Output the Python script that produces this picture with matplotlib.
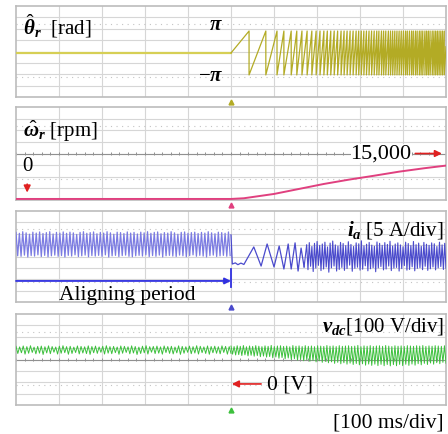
import numpy as np
import matplotlib
matplotlib.use('Agg')
import matplotlib.pyplot as plt

plt.rcParams['font.family'] = ['Liberation Serif', 'DejaVu Serif']
plt.rcParams['mathtext.fontset'] = 'custom'
plt.rcParams['mathtext.rm'] = 'Liberation Serif'
plt.rcParams['mathtext.it'] = 'Liberation Serif:italic'
plt.rcParams['mathtext.bf'] = 'Liberation Serif:bold:italic'
try:
    plt.rcParams['mathtext.bfit'] = 'Liberation Serif:bold:italic'
except KeyError:
    pass

# ---------------- data (time in ms, 100 ms/div, trigger at 0) ----------------
theta_pre_t = [-500, 0]
theta_pre_rad = [0.0, 0.0]
theta_wrap_ms = [42, 81, 107, 123, 140, 153, 165, 177, 188, 198, 207, 216, 224, 232,
                 240, 248, 256, 263, 270, 277, 284, 291, 297, 303, 309, 315, 321, 327,
                 333, 339, 344, 350, 355, 360, 366, 371, 376, 381, 386, 391, 396, 401,
                 406, 410, 415, 420, 424, 429, 433, 438, 442, 446, 451, 455, 459, 463,
                 468, 472, 476, 480, 484, 488, 492, 496]
theta_end_rad = 0.9

speed_t = [-500, 0, 30, 100, 158, 216, 274, 333, 391, 449, 500]
speed_rpm = [0, 0, 230, 1650, 3300, 4950, 6370, 7670, 9010, 10130, 11010]

ia_pre_hi = [10.6, 10.2, 10.9, 10.4, 9.8, 10.7, 10.3, 10.8, 10.1, 10.5, 10.9, 9.9, 10.6,
             10.3, 10.8, 10.2, 10.7, 10.4, 9.7, 10.6, 10.9, 10.2, 10.5, 10.8, 10.0, 10.6,
             10.3, 10.9, 10.4, 9.8, 10.7, 10.5, 10.1, 10.8, 10.3, 10.6, 9.9, 10.7, 10.4,
             10.9, 10.2, 10.6, 10.8, 10.0, 10.5, 10.3, 10.9, 10.4, 9.8, 10.6, 10.8, 10.2,
             10.5, 10.7, 10.1, 10.6, 10.3, 10.9, 10.4, 10.0, 10.7, 10.5, 10.2, 10.8]
ia_pre_lo = [0.3, 0.1, 0.6, -0.2, 0.4, 0.2, 0.7, 0.0, 0.5, -0.1, 0.3, 0.6, 0.1, 0.4, -0.2,
             0.5, 0.2, 0.7, 0.0, 0.3, 0.6, -0.1, 0.4, 0.2, 0.5, 0.1, 0.7, -0.2, 0.3, 0.5,
             0.0, 0.4, 0.6, 0.1, -0.1, 0.3, 0.5, 0.2, 0.7, 0.0, 0.4, 0.1, 0.6, -0.2, 0.3,
             0.5, 0.2, 0.0, 0.6, 0.3, -0.1, 0.4, 0.7, 0.1, 0.5, 0.2, -0.2, 0.4, 0.6, 0.0,
             0.3, 0.5, 0.1, 0.4]
ia_start_t = [0, 3, 10, 16, 23, 30, 53, 70, 84, 100, 112, 123, 133, 140, 149, 156, 163, 170]
ia_start_A = [9.5, -3.3, -2.8, -3.6, -2.9, -3.5, 4.2, -4.2, 5.5, -4.6, 4.6, -5.5, 5.5,
              -5.5, 6.0, -6.4, 3.7, -4.6]
ia_post_hi = [5.2, 6.1, 4.4, 5.8, 6.6, 4.9, 5.5, 6.3, 4.2, 5.9, 6.8, 5.1, 4.6, 6.2, 5.7,
              4.8, 6.5, 5.3, 4.4, 6.0, 5.6, 6.9, 4.7, 5.4, 6.2, 5.0, 4.5, 6.4, 5.8, 4.9,
              6.1, 5.3, 6.7, 4.6, 5.5, 6.0, 5.1, 4.3, 6.3, 5.7, 4.8, 6.6, 5.2, 5.9, 4.5,
              6.2, 5.4, 4.9, 6.0, 5.6, 4.4, 6.3, 5.1, 5.8]
ia_post_lo = [-5.8, -4.3, -6.6, -5.1, -3.9, -6.2, -5.5, -4.6, -6.9, -5.0, -4.2, -6.4, -5.7,
              -4.8, -6.1, -5.3, -3.8, -6.5, -5.2, -4.7, -6.0, -5.6, -4.1, -6.3, -5.4, -4.9,
              -6.7, -5.0, -4.4, -5.9, -5.5, -4.2, -6.2, -5.1, -4.8, -6.4, -5.3, -4.0, -6.0,
              -5.7, -4.5, -6.3, -5.2, -4.9, -5.8, -4.3, -6.1, -5.4, -4.6, -5.9, -5.0, -4.4,
              -5.7, -5.2]

vdc_pre_hi = [331, 326, 334, 328, 336, 324, 330, 333, 327, 335,
              329, 325, 332, 336, 328, 331, 324, 334, 330, 327,
              335, 329, 333, 326, 331, 336, 328, 330, 325, 334,
              331, 327, 335, 329, 324, 332, 336, 328, 330, 333,
              326, 334, 329, 331, 325, 335, 330, 327, 333, 328,
              336, 331, 326, 334, 329, 332, 327, 335, 330, 328]
vdc_pre_lo = [268, 274, 262, 270, 277, 265, 271, 259, 273, 266,
              279, 263, 270, 275, 261, 268, 276, 264, 272, 267,
              260, 274, 269, 278, 263, 271, 266, 275, 261, 270,
              277, 265, 272, 259, 268, 274, 263, 279, 267, 271,
              262, 276, 269, 264, 273, 260, 270, 278, 266, 272,
              263, 275, 268, 261, 274, 270, 265, 277, 262, 269]
vdc_post_hi = [333, 329, 336, 331, 338, 327, 334, 330, 337, 332,
               328, 335, 331, 339, 329, 334, 336, 330, 333, 327,
               338, 332, 335, 329, 337, 331, 334, 328, 336, 333,
               330, 338, 332, 335, 329, 337, 331, 334, 336, 330,
               333, 339, 328, 335, 332, 337, 330, 334, 336, 331,
               338, 333, 329, 336, 332, 335, 330, 337, 334, 331,
               336, 333, 338, 330, 335, 332, 337, 334, 331, 336]
vdc_post_lo = [262, 255, 258, 250, 256, 247, 252, 244, 249, 240,
               245, 236, 241, 230, 237, 226, 232, 221, 228, 216,
               222, 210, 217, 204, 212, 199, 207, 194, 203, 190,
               198, 186, 194, 181, 190, 177, 186, 174, 183, 171,
               180, 168, 177, 165, 175, 163, 174, 161, 172, 160,
               171, 159, 170, 160, 172, 161, 173, 163, 175, 165,
               178, 168, 181, 171, 184, 174, 187, 178, 190, 182]

# ---------------- scope scaling (screen divisions) ----------------
THETA_CENTER, THETA_DIV_PER_PI = 3.87, 1.93
SPEED_ZERO, SPEED_DIV_PER_RPM = 0.09, 3.91 / 15000
IA_ZERO, IA_A_PER_DIV = 4.0, 5.0
VDC_ZERO, VDC_V_PER_DIV = 1.85, 100.0

def zigzag(hi, lo):
    out = []
    for a, b in zip(hi, lo):
        out += [a, b]
    return out

# ---------------- figure ----------------
W, H = 448, 435
fig = plt.figure(figsize=(W / 100, H / 100), dpi=100)

def rect(top, bottom):
    return [16 / W, 1 - bottom / H, 430 / W, (bottom - top) / H]

panels = [(7, 98), (108, 201), (212, 303), (315, 406)]
axes = [fig.add_axes(rect(*p)) for p in panels]

GRID = '#d6d6d6'
for i, ax in enumerate(axes):
    ax.set_xlim(-500, 500)
    ax.set_ylim(0, 8)
    ax.set_xticks([])
    ax.set_yticks([])
    for s in ax.spines.values():
        s.set_color('#bcbcbc')
        s.set_linewidth(1.2)
    for x in range(-400, 500, 100):
        ax.axvline(x, color=GRID, lw=0.8, zorder=0)
    for y in range(1, 8):
        ax.axhline(y, color=GRID, lw=0.8, zorder=0)
    for y in (1.8, 6.4):
        ax.axhline(y, color='#c4c4c4', lw=0.8, ls=(0, (1, 4)), zorder=0)
    if i in (1, 3):
        ax.axhline(4, color='#909090', lw=0.8, zorder=0.5)
        ax.vlines(np.arange(-500, 501, 20), 3.88, 4.12, color='#909090', lw=0.7, zorder=0.5)

trace_cols = ['#b3ab25', '#e0407f', '#4a4acc', '#3cc03c']
for ax, c in zip(axes, trace_cols):
    ax.plot([0], [-0.45], marker='^', color=c, ms=3.5, clip_on=False, zorder=5)

# ---- panel 1: estimated angle ----
ax = axes[0]
tt = [0]
th = [0.0]
for w in theta_wrap_ms:
    tt += [w, w]
    th += [np.pi, -np.pi]
tt.append(500)
th.append(theta_end_rad)
to_div = lambda v: THETA_CENTER + np.asarray(v) * THETA_DIV_PER_PI / np.pi
ax.plot(theta_pre_t, to_div(theta_pre_rad), color='#d6cf55', lw=1.6, zorder=3)
ax.plot(tt, to_div(th), color=trace_cols[0], lw=0.9, zorder=3)
ax.text(-484, 6.3, r'$\hat{\mathbf{\theta}}_{\mathbf{r}}$  [rad]', fontsize=15, ha='left', va='center')
ax.text(-18, 6.4, r'$\mathbf{\pi}$', fontsize=15, ha='right', va='center')
ax.text(-18, 1.85, r'$-\mathbf{\pi}$', fontsize=15, ha='right', va='center')

# ---- panel 2: estimated speed ----
ax = axes[1]
ax.plot(speed_t, SPEED_ZERO + np.asarray(speed_rpm) * SPEED_DIV_PER_RPM,
        color=trace_cols[1], lw=1.4, zorder=3)
ax.text(-484, 6.0, r'$\hat{\mathbf{\omega}}_{\mathbf{r}}$ [rpm]', fontsize=15, ha='left', va='center')
ax.text(-474, 3.0, '0', fontsize=15, ha='center', va='center')
ax.annotate('', xy=(-474, 0.4), xytext=(-474, 1.6),
            arrowprops=dict(arrowstyle='-|>', color='#e02020', lw=1.2, mutation_scale=10))
ax.text(349, 4.0, '15,000', fontsize=16, ha='center', va='center', zorder=4,
        bbox=dict(fc='white', ec='none', pad=0))
ax.annotate('', xy=(497, 4.0), xytext=(422, 4.0),
            arrowprops=dict(arrowstyle='-|>', color='#e02020', lw=1.2, mutation_scale=10))

# ---- panel 3: phase current ----
ax = axes[2]
n = len(ia_pre_hi)
t_pre = np.linspace(-500, -2, 2 * n)
ax.plot(t_pre, IA_ZERO + np.asarray(zigzag(ia_pre_hi, ia_pre_lo)) / IA_A_PER_DIV,
        color='#7c7ce2', lw=0.9, zorder=3)
ax.plot(ia_start_t, IA_ZERO + np.asarray(ia_start_A) / IA_A_PER_DIV,
        color=trace_cols[2], lw=0.9, zorder=3)
m = len(ia_post_hi)
t_post = np.linspace(176, 500, 2 * m)
ax.plot(np.r_[ia_start_t[-1], t_post],
        IA_ZERO + np.r_[ia_start_A[-1], zigzag(ia_post_hi, ia_post_lo)] / IA_A_PER_DIV,
        color=trace_cols[2], lw=0.8, zorder=3)
ax.text(495, 6.4, r'$\mathbf{i}_{\mathbf{a}}$ [5 A/div]', fontsize=15, ha='right', va='center',
        zorder=4)
ax.annotate('', xy=(0, 1.85), xytext=(-500, 1.85),
            arrowprops=dict(arrowstyle='-|>', color='#3030e0', lw=1.3, mutation_scale=9,
                            shrinkA=0, shrinkB=0))
ax.plot([0, 0], [1.35, 2.9], color='#3030e0', lw=1.3, zorder=4)
ax.text(-242, 0.65, 'Aligning period', fontsize=15.5, ha='center', va='center', zorder=4,
        clip_on=False)

# ---- panel 4: DC link voltage ----
ax = axes[3]
k = len(vdc_pre_hi)
ax.plot(np.linspace(-500, 0, 2 * k),
        VDC_ZERO + np.asarray(zigzag(vdc_pre_hi, vdc_pre_lo)) / VDC_V_PER_DIV,
        color=trace_cols[3], lw=0.7, zorder=3)
j = len(vdc_post_hi)
ax.plot(np.linspace(0, 500, 2 * j),
        VDC_ZERO + np.asarray(zigzag(vdc_post_hi, vdc_post_lo)) / VDC_V_PER_DIV,
        color=trace_cols[3], lw=0.7, zorder=3)
ax.text(495, 7.0, r'$\mathbf{v}_{\mathbf{dc}}$[100 V/div]', fontsize=15, ha='right', va='center',
        zorder=4)
ax.annotate('', xy=(2, 1.85), xytext=(70, 1.85),
            arrowprops=dict(arrowstyle='-|>', color='#e02020', lw=1.2, mutation_scale=10,
                            shrinkA=0, shrinkB=0))
ax.text(84, 1.85, '0 [V]', fontsize=15.5, ha='left', va='center')

fig.text(444 / W, 1 - 423 / H, '[100 ms/div]', fontsize=15.5, ha='right', va='center')

fig.savefig('out.png', dpi=100)
